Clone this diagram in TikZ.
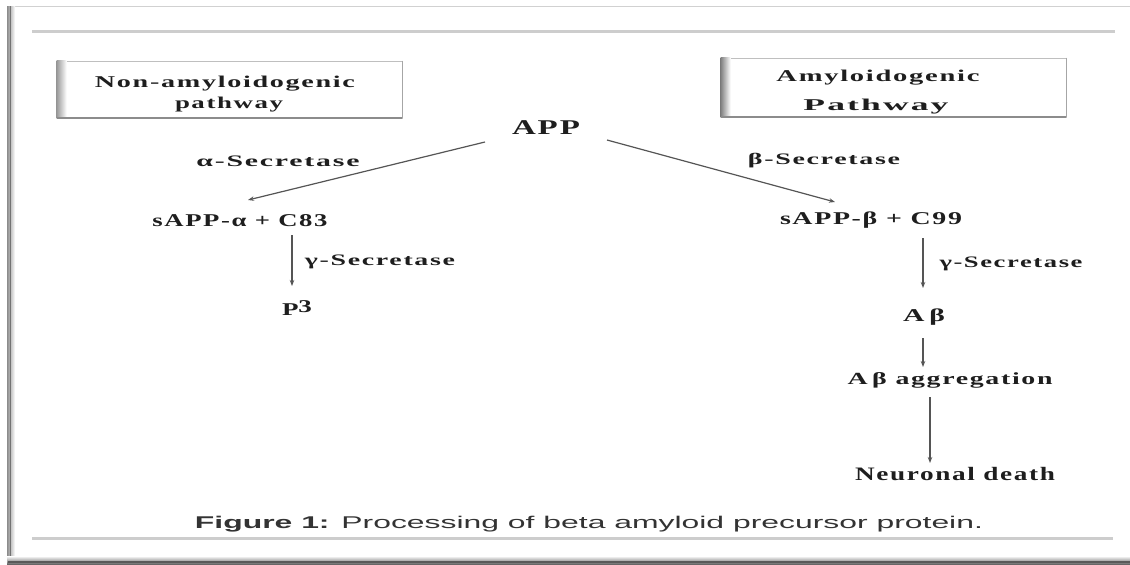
\documentclass[tikz,border=0pt]{standalone}
\usepackage{fontspec}
\setmainfont{Liberation Serif}
\newfontfamily\capfont{Liberation Sans}
\newfontfamily\lblfont[LetterSpace=6]{Liberation Serif}
\usetikzlibrary{arrows.meta}
\newcommand{\wfit}[2]{\resizebox{#1pt}{\height}{#2}}
\definecolor{inkc}{RGB}{30,30,30}
\definecolor{arrc}{RGB}{85,85,85}
\definecolor{rulec}{RGB}{205,205,205}
\begin{document}
\begin{tikzpicture}[x=1pt,y=-1pt,
  txt/.style={inner sep=0pt, outer sep=0pt, text depth=0pt, text=inkc},
  boxlbl/.style={txt, font=\lblfont\fontsize{16.5}{18}\selectfont\bfseries, text height=10.9pt},
  bigt/.style={txt, font=\lblfont\fontsize{21}{24}\selectfont\bfseries, text height=13.9pt},
  enzt/.style={txt, font=\lblfont\fontsize{16}{18}\selectfont\bfseries, text height=10.6pt},
  prodt/.style={txt, font=\lblfont\fontsize{18}{20}\selectfont\bfseries, text height=11.9pt},
  endt/.style={txt, font=\lblfont\fontsize{19}{21}\selectfont\bfseries, text height=12.6pt},
  capt/.style={inner sep=0pt, outer sep=0pt, text height=12pt, text depth=0pt, text=black!80, font=\capfont\fontsize{17}{19}\selectfont},
  pathbox/.style={draw=black!25, line width=0.8pt, fill=white, inner sep=0pt, minimum width=345pt, minimum height=57pt},
  arr/.style={draw=arrc, line width=1.2pt, -{Stealth[length=6pt,width=4.5pt]}},
  rulel/.style={draw=rulec, line width=3pt}
]
\useasboundingbox (0,0) rectangle (1130,565);
\fill[white] (0,0) rectangle (1130,565);

% outer frame with shadow
\draw[black!18, line width=1pt] (10,6) -- (1130,6);
\shade[left color=black!45, right color=white] (7,6) rectangle (15,563);
\draw[black!55, line width=1pt] (10,6) -- (10,561);
\shade[top color=white, bottom color=black!60] (7,556) rectangle (1130,564);
\draw[black!65, line width=2pt] (8,562) -- (1130,562);

% horizontal rules
\coordinate (rtl) at (32,31);
\coordinate (rtr) at (1115,31);
\coordinate (rbl) at (32,538);
\coordinate (rbr) at (1113,538);
\draw[rulel] (rtl) -- (rtr);
\draw[rulel] (rbl) -- (rbr);

% pathway boxes
\node[pathbox] (boxL) at (229.5,89.5) {};
\node[pathbox, minimum height=59pt] (boxR) at (893.5,87.5) {};
\shade[left color=black!40, right color=white] (boxL.north west) rectangle ([xshift=10pt]boxL.south west);
\shade[left color=black!50, right color=white] (boxR.north west) rectangle ([xshift=10pt]boxR.south west);
\draw[black!45, line width=2pt] (boxL.south west) -- (boxL.south east);
\draw[black!45, line width=2pt] (boxR.south west) -- (boxR.south east);
\draw[black!35, line width=1.2pt] (boxL.north east) -- (boxL.south east);
\draw[black!35, line width=1.2pt] (boxR.north east) -- (boxR.south east);

\node[boxlbl] (nonA) at (225,82) {\wfit{260}{Non-amyloidogenic}};
\node[boxlbl] (nonB) at (229,103) {\wfit{108}{pathway}};
\node[boxlbl] (amyA) at (878,76) {\wfit{203}{Amyloidogenic}};
\node[boxlbl] (amyB) at (876,105) {\wfit{145}{Pathway}};

% main nodes
\node[bigt] (app) at (546,128) {\wfit{68}{APP}};
\node[enzt] (alpha) at (278,161) {\wfit{163}{α-Secretase}};
\node[enzt] (beta) at (824,159) {\wfit{152}{β-Secretase}};
\node[prodt] (sa) at (240,221) {\wfit{175}{sAPP-α + C83}};
\node[prodt] (sb) at (871,219) {\wfit{182}{sAPP-β + C99}};
\node[enzt] (gl) at (380,260) {\wfit{150}{γ-Secretase}};
\node[enzt] (gr) at (1011,262) {\wfit{143}{γ-Secretase}};
\node[prodt] (p3) at (297,310) {\wfit{30}{P\raisebox{3pt}{3}}};
\node[prodt] (ab) at (924,316) {\wfit{42}{A\,β}};
\node[enzt, font=\lblfont\fontsize{17}{19}\selectfont\bfseries, text height=11.3pt] (agg) at (950,379) {\wfit{205}{A\,β aggregation}};
\node[endt] (nd) at (955,474) {\wfit{200}{Neuronal death}};

\node[capt] (cap) at (589,522) {\wfit{788}{\textbf{Figure 1:} Processing of beta amyloid precursor protein.}};

% connectors
\draw[arr] ([shift={(-61,14)}]app.center) -- ([shift={(8,-21)}]sa.center);
\draw[arr] ([shift={(61,12)}]app.center) -- ([shift={(-36,-17)}]sb.center);
\draw[arr] ([shift={(52,14)}]sa.center) -- ([shift={(-5,-24)}]p3.center);
\draw[arr] ([shift={(52,19)}]sb.center) -- ([shift={(-1,-28)}]ab.center);
\draw[arr] ([shift={(-1,22)}]ab.center) -- ([shift={(-27,-12)}]agg.center);
\draw[arr] ([shift={(-20,18)}]agg.center) -- ([shift={(-25,-11)}]nd.center);
\end{tikzpicture}
\end{document}
